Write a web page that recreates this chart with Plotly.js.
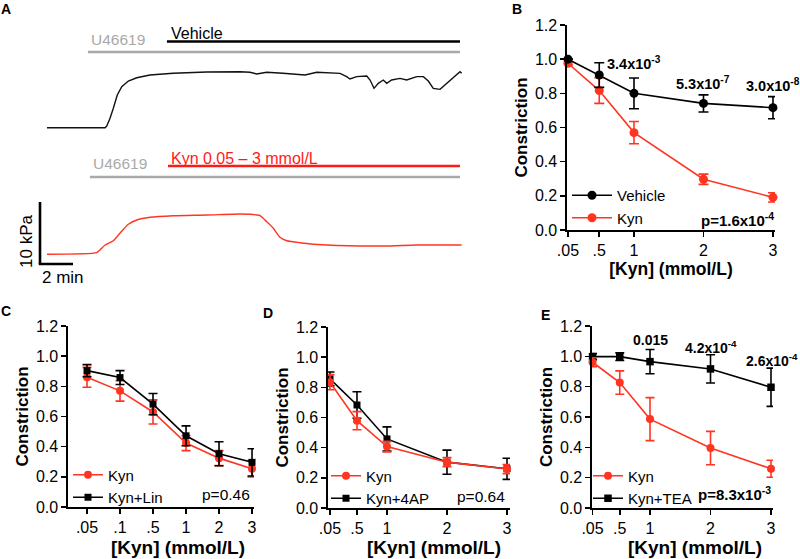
<!DOCTYPE html>
<html>
<head>
<meta charset="utf-8">
<script src="https://cdn.plot.ly/plotly-3.0.1.min.js"></script>
<style>html,body{margin:0;padding:0;background:#fff;}#chart{width:800px;height:559px;}</style>
</head>
<body>
<div id="chart"></div>
<script>
// ---------- Panel A: tension traces (time in min, tension in kPa above baseline) ----------
var vehT   = [0, 3.52, 3.62, 3.82, 4.02, 4.26, 4.53, 4.93, 5.44, 6.24, 7.64, 9.68, 11.70, 12.30, 12.71, 13.32, 14.30, 15.64, 16.35, 17.76, 18.16, 18.36, 18.77, 19.38, 19.58, 19.82, 20.08, 20.38, 20.59, 20.89, 21.39, 21.80, 22.41, 22.81, 23.11, 23.41, 23.82, 24.12, 24.42, 25.03, 25.13];
var vehKPa = [0, 0, 0.27, 1.52, 3.13, 5.27, 6.61, 7.53, 8.06, 8.50, 8.77, 8.98, 9.03, 8.94, 8.66, 8.94, 8.77, 8.50, 8.94, 8.77, 8.23, 7.85, 8.23, 8.34, 7.69, 6.35, 7.16, 7.69, 7.16, 7.69, 7.95, 7.69, 8.23, 8.23, 7.53, 6.35, 6.18, 6.87, 7.69, 9.03, 8.77];
var kynT   = [0, 3.01, 3.21, 3.52, 4.02, 4.42, 4.93, 5.44, 6.24, 7.65, 9.68, 11.70, 12.30, 12.71, 12.91, 13.32, 13.72, 14.12, 14.53, 15.33, 16.95, 20.38, 22.41, 25.13];
var kynKPa = [0, 0.26, 0.69, 1.50, 2.19, 3.39, 4.84, 5.53, 5.97, 6.23, 6.34, 6.50, 6.45, 6.34, 6.23, 5.26, 4.19, 2.74, 2.19, 1.87, 1.50, 1.34, 1.50, 1.50];

// ---------- Panel B ----------
var xB        = [0.05, 0.5, 1, 2, 3];
var xBLabels  = ['.05', '.5', '1', '2', '3'];
var vehicleB  = [1.0, 0.907, 0.80, 0.741, 0.716];
var vehErrB   = [0.0, 0.072, 0.09, 0.05, 0.065];
var kynB      = [0.976, 0.816, 0.57, 0.297, 0.191];
var kynErrB   = [0.01, 0.075, 0.065, 0.03, 0.027];
var pairB     = ['3.4x10<sup>-3</sup>', '5.3x10<sup>-7</sup>', '3.0x10<sup>-8</sup>'];
var pairBx    = [1, 2, 3];

// ---------- Panel C ----------
var xC      = ['.05', '.1', '.5', '1', '2', '3'];
var kynC    = [0.86, 0.77, 0.63, 0.424, 0.324, 0.254];
var kynErrC = [0.066, 0.068, 0.08, 0.05, 0.05, 0.055];
var linC    = [0.904, 0.858, 0.682, 0.472, 0.353, 0.296];
var linErrC = [0.04, 0.046, 0.07, 0.066, 0.08, 0.09];

// ---------- Panel D ----------
var xD      = [0.05, 0.5, 1, 2, 3];
var kynD    = [0.834, 0.579, 0.407, 0.304, 0.258];
var kynErrD = [0.05, 0.06, 0.035, 0.03, 0.03];
var apD     = [0.856, 0.683, 0.458, 0.304, 0.26];
var apErrD  = [0.046, 0.088, 0.08, 0.08, 0.07];

// ---------- Panel E ----------
var xE      = [0.05, 0.5, 1, 2, 3];
var kynE    = [0.961, 0.827, 0.586, 0.395, 0.259];
var kynErrE = [0.03, 0.077, 0.142, 0.11, 0.056];
var teaE    = [0.998, 0.998, 0.965, 0.917, 0.796];
var teaErrE = [0.02, 0.025, 0.08, 0.093, 0.126];
var pairE   = ['0.015', '4.2x10<sup>-4</sup>', '2.6x10<sup>-4</sup>'];
var pairEx  = [1, 2, 3];

var yTicks = [0, 0.2, 0.4, 0.6, 0.8, 1.0, 1.2];
var yTickText = ['0.0', '0.2', '0.4', '0.6', '0.8', '1.0', '1.2'];

var RED = '#ff3522';
var FONT = 'Liberation Sans, Arial, Helvetica, sans-serif';
var W = 800, H = 559;
function px(x) { return x / W; }
function py(y) { return 1 - y / H; }

function series(x, y, err, color, symbol, name, xa, ya, leg, size) {
  return {
    x: x, y: y, xaxis: xa, yaxis: ya, name: name, legend: leg,
    type: 'scatter', mode: 'lines+markers', cliponaxis: false,
    line: {color: color, width: 1.6},
    marker: {color: color, symbol: symbol, size: size},
    error_y: {type: 'data', array: err, visible: true, color: color, thickness: 1.6, width: 4.5}
  };
}

var traces = [
  // A
  {x: vehT, y: vehKPa, xaxis: 'x6', yaxis: 'y6', type: 'scatter', mode: 'lines', showlegend: false,
   line: {color: '#111111', width: 1.4}},
  {x: kynT, y: kynKPa, xaxis: 'x6', yaxis: 'y7', type: 'scatter', mode: 'lines', showlegend: false,
   line: {color: RED, width: 1.4, shape: 'spline', smoothing: 0.6}},
  // B
  Object.assign(series(xB, kynB, kynErrB, RED, 'circle', 'Kyn', 'x2', 'y2', 'legend', 9), {legendrank: 2}),
  Object.assign(series(xB, vehicleB, vehErrB, '#000000', 'circle', 'Vehicle', 'x2', 'y2', 'legend', 9), {legendrank: 1}),
  // C
  Object.assign(series(xC, kynC, kynErrC, RED, 'circle', 'Kyn', 'x3', 'y3', 'legend2', 8), {legendrank: 1}),
  Object.assign(series(xC, linC, linErrC, '#000000', 'square', 'Kyn+Lin', 'x3', 'y3', 'legend2', 7), {legendrank: 2}),
  // D
  Object.assign(series(xD, apD, apErrD, '#000000', 'square', 'Kyn+4AP', 'x4', 'y4', 'legend3', 7), {legendrank: 2}),
  Object.assign(series(xD, kynD, kynErrD, RED, 'circle', 'Kyn', 'x4', 'y4', 'legend3', 8), {legendrank: 1}),
  // E
  Object.assign(series(xE, teaE, teaErrE, '#000000', 'square', 'Kyn+TEA', 'x5', 'y5', 'legend4', 7.5), {legendrank: 2}),
  Object.assign(series(xE, kynE, kynErrE, RED, 'circle', 'Kyn', 'x5', 'y5', 'legend4', 8), {legendrank: 1})
];
traces[2].error_y.width = 5; traces[3].error_y.width = 5;

function yAxis(domPx, anchor, titleSize) {
  return {
    domain: [py(domPx[1]), py(domPx[0])], anchor: anchor, range: [0, 1.2],
    tickvals: yTicks, ticktext: yTickText, ticks: 'outside', ticklen: 5, tickwidth: 1.6, tickcolor: '#000',
    showline: true, linecolor: '#000', linewidth: 1.6, showgrid: false, zeroline: false,
    tickfont: {family: FONT, size: 16, color: '#000'},
    title: {text: '<b>Constriction</b>', font: {family: FONT, size: titleSize, color: '#000'}, standoff: 3},
    automargin: false, fixedrange: true
  };
}
function xAxis(domPx, anchor, range, title, extra) {
  var a = {
    domain: [px(domPx[0]), px(domPx[1])], anchor: anchor, range: range,
    ticks: 'outside', ticklen: 5, tickwidth: 1.6, tickcolor: '#000',
    showline: true, linecolor: '#000', linewidth: 1.6, showgrid: false, zeroline: false,
    tickfont: {family: FONT, size: 16, color: '#000'},
    automargin: false, fixedrange: true
  };
  if (title) a.title = {text: '<b>[Kyn] (mmol/L)</b>', font: {family: FONT, size: 17.5, color: '#000'}, standoff: 4};
  return Object.assign(a, extra || {});
}

function legendAt(xp, yp, iw) {
  return {x: px(xp), y: py(yp), xanchor: 'left', yanchor: 'top', bgcolor: 'rgba(0,0,0,0)',
          font: {family: FONT, size: 15, color: '#000'}, itemwidth: iw, tracegroupgap: 0,
          traceorder: 'normal', borderwidth: 0};
}

var ann = [];
function label(t, xp, yp) {
  ann.push({text: '<b>' + t + '</b>', xref: 'paper', yref: 'paper', x: px(xp), y: py(yp),
            xanchor: 'center', yanchor: 'middle', showarrow: false,
            font: {family: FONT, size: 14, color: '#000'}});
}
label('A', 6, 9); label('B', 517, 9); label('C', 6, 311); label('D', 268, 313); label('E', 545, 315);

// x-axis titles of C, D, E (sit close under the tick labels)
var xTitleC = [178, 434, 695];
for (var k = 0; k < xTitleC.length; k++) {
  ann.push({text: '<b>[Kyn] (mmol/L)</b>', xref: 'paper', yref: 'paper', x: px(xTitleC[k]), y: py(547.5),
            xanchor: 'center', yanchor: 'middle', showarrow: false,
            font: {family: FONT, size: 19, color: '#000'}});
}

// pairwise p-values
for (var i = 0; i < pairB.length; i++) {
  ann.push({text: '<b>' + pairB[i] + '</b>', xref: 'x2', yref: 'y2', x: pairBx[i],
            y: [0.975, 0.86, 0.85][i], xanchor: 'center', yanchor: 'middle', showarrow: false,
            font: {family: FONT, size: 14.5, color: '#000'}});
}
for (var j = 0; j < pairE.length; j++) {
  ann.push({text: '<b>' + pairE[j] + '</b>', xref: 'x5', yref: 'y5', x: pairEx[j],
            y: [1.105, 1.06, 0.975][j], xanchor: 'center', yanchor: 'middle', showarrow: false,
            xshift: [0, 0, 1][j], font: {family: FONT, size: 14, color: '#000'}});
}
// overall p-values
ann.push({text: '<b>p=1.6x10<sup>-4</sup></b>', xref: 'x2', yref: 'y2', x: 3, y: 0.06, xanchor: 'right', yanchor: 'middle',
          xshift: 3, showarrow: false, font: {family: FONT, size: 15, color: '#000'}});
ann.push({text: 'p=0.46', xref: 'x3', yref: 'y3', x: 5, y: 0.085, xanchor: 'right', yanchor: 'middle',
          showarrow: false, font: {family: FONT, size: 15.5, color: '#000'}});
ann.push({text: 'p=0.64', xref: 'x4', yref: 'y4', x: 3, y: 0.075, xanchor: 'right', yanchor: 'middle',
          showarrow: false, font: {family: FONT, size: 15.5, color: '#000'}});
ann.push({text: '<b>p=8.3x10<sup>-3</sup></b>', xref: 'x5', yref: 'y5', x: 3, y: 0.095, xanchor: 'right', yanchor: 'middle',
          xshift: 2, showarrow: false, font: {family: FONT, size: 15, color: '#000'}});

// Panel A text labels
var GRAY = '#a9a9a9';
function aText(t, tmin, ypx, color, size) {
  ann.push({text: t, xref: 'x6', yref: 'paper', x: tmin, y: py(ypx), xanchor: 'left', yanchor: 'middle',
            showarrow: false, font: {family: FONT, size: size, color: color}});
}
aText('U46619', 2.55, 39, GRAY, 15.5);
aText('Vehicle', 7.4, 33, '#000', 16);
aText('U46619', 2.67, 164, GRAY, 15.5);
aText('Kyn 0.05 \u2013 3 mmol/L', 7.4, 158, '#ff1a1a', 16);
ann.push({text: '10 kPa', xref: 'paper', yref: 'paper', x: px(27), y: py(242), textangle: -90,
          xanchor: 'center', yanchor: 'middle', showarrow: false, font: {family: FONT, size: 17, color: '#000'}});
ann.push({text: '2 min', xref: 'paper', yref: 'paper', x: px(40), y: py(277), xanchor: 'left', yanchor: 'middle',
          showarrow: false, font: {family: FONT, size: 17, color: '#000'}});

var shapes = [
  {type: 'line', xref: 'x6', yref: 'paper', x0: 7.27, x1: 25.03, y0: py(41.5), y1: py(41.5), line: {color: '#000', width: 2.7}},
  {type: 'line', xref: 'x6', yref: 'paper', x0: 2.48, x1: 25.03, y0: py(52), y1: py(52), line: {color: GRAY, width: 2.7}},
  {type: 'line', xref: 'x6', yref: 'paper', x0: 7.33, x1: 25.03, y0: py(166), y1: py(166), line: {color: '#ff1a1a', width: 2.7}},
  {type: 'line', xref: 'x6', yref: 'paper', x0: 2.6, x1: 25.03, y0: py(177), y1: py(177), line: {color: GRAY, width: 2.7}},
  // scale bar: 10 kPa vertical, 2 min horizontal
  {type: 'line', xref: 'x6', yref: 'y7', x0: -0.424, x1: -0.424, y0: -1.565, y1: 8.435, line: {color: '#000', width: 2.6}},
  {type: 'line', xref: 'x6', yref: 'y7', x0: -0.5, x1: 1.576, y0: -1.565, y1: -1.565, line: {color: '#000', width: 2.6}}
];

var layout = {
  width: W, height: H, margin: {l: 0, r: 0, t: 0, b: 0},
  paper_bgcolor: '#fff', plot_bgcolor: 'rgba(0,0,0,0)',
  font: {family: FONT, color: '#000'},
  showlegend: true,
  // Panel A axes (hidden)
  xaxis6: {domain: [px(30), px(470)], range: [-1.03, 25.636], visible: false, anchor: 'y6', fixedrange: true},
  yaxis6: {domain: [py(135), py(60)], range: [-1.177, 10.919], visible: false, anchor: 'x6', fixedrange: true},
  yaxis7: {domain: [py(272), py(195)], range: [-2.855, 9.565], visible: false, anchor: 'x6', fixedrange: true},
  // Panel B
  xaxis2: xAxis([567, 775], 'y2', [0.036, 3.029], true, {tickvals: xB, ticktext: xBLabels}),
  yaxis2: yAxis([25, 230], 'x2', 17),
  // Panel C
  xaxis3: xAxis([68, 254], 'y3', [-0.576, 5.06], false, {type: 'category'}),
  yaxis3: yAxis([326, 507], 'x3', 17),
  // Panel D
  xaxis4: xAxis([328, 510], 'y4', [0.017, 3.05], false, {tickvals: xD, ticktext: xBLabels}),
  yaxis4: yAxis([327, 508], 'x4', 17),
  // Panel E
  xaxis5: xAxis([592, 773], 'y5', [0.041, 3.033], false, {tickvals: xE, ticktext: xBLabels}),
  yaxis5: yAxis([326, 508], 'x5', 17),
  legend: legendAt(567, 179, 40),
  legend2: legendAt(68, 458.5, 30),
  legend3: legendAt(326, 459.5, 30),
  legend4: legendAt(588, 459.5, 30),
  annotations: ann,
  shapes: shapes
};

Plotly.newPlot('chart', traces, layout, {staticPlot: true, displayModeBar: false});
</script>
</body>
</html>
